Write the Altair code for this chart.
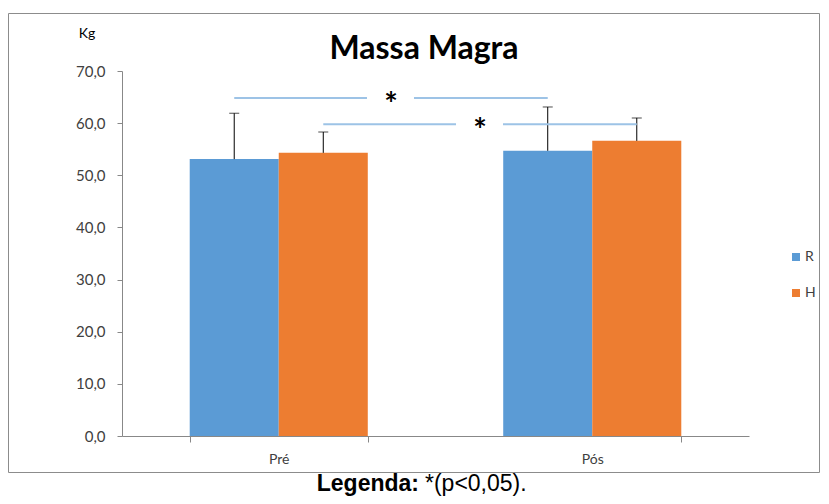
import altair as alt
import pandas as pd

groups = ["Pré", "Pós"]
series = ["R", "H"]
mean_R = [53.1, 54.7]
mean_H = [54.3, 56.6]
sd_R = [8.8, 8.4]
sd_H = [4.0, 4.4]
y_ticks = [0, 10, 20, 30, 40, 50, 60, 70]
sig_series = ["R", "H"]
sig_level = [64.8, 59.8]
sig_mark = ["*", "*"]

BLUE = "#5B9BD5"
ORANGE = "#ED7D31"
SIG = "#9DC3E6"
AX = "#888888"
LBL = "#404040"
FONT = "Lato"

rows = []
for i, g in enumerate(groups):
    for s, m, sd in (("R", mean_R[i], sd_R[i]), ("H", mean_H[i], sd_H[i])):
        rows.append(dict(group=g, series=s, mean=m, upper=m + sd))
bars_df = pd.DataFrame(rows)

PAD_INNER = 0.432
PAD_OUTER = PAD_INNER / 2
BAND = 1 - PAD_INNER


def center(gi, s):
    j = series.index(s)
    return gi + PAD_OUTER + BAND * (j + 0.5) / len(series)


sig_rows = []
for s, lvl, mk in zip(sig_series, sig_level, sig_mark):
    x0 = center(0, s)
    x1 = center(1, s)
    sig_rows.append(dict(series=s, level=lvl, x0=x0, x1=x1, mid=(x0 + x1) / 2, mark=mk))
sig_df = pd.DataFrame(sig_rows)

yscale = alt.Scale(domain=[0, 70], nice=False, zero=True)
x_enc = alt.X(
    "group:N", sort=groups,
    scale=alt.Scale(paddingInner=PAD_INNER, paddingOuter=PAD_OUTER),
    axis=alt.Axis(title=None, labelAngle=0, tickBand="extent", domainColor=AX, tickColor=AX,
                  tickSize=6, labelPadding=10, labelFontSize=14, labelColor=LBL, labelFont=FONT),
)
xoff = alt.XOffset("series:N", sort=series, scale=alt.Scale(paddingInner=0, paddingOuter=0))
y_enc = alt.Y(
    "mean:Q", scale=yscale,
    axis=alt.Axis(title=None, values=y_ticks, grid=False, domainColor=AX, tickColor=AX, tickSize=5,
                  labelPadding=12, labelFontSize=15, labelColor=LBL, labelFont=FONT,
                  labelExpr="replace(format(datum.value, '.1f'), '.', ',')"),
)

bars = alt.Chart(bars_df).mark_bar().encode(
    x=x_enc, xOffset=xoff, y=y_enc,
    color=alt.Color("series:N", sort=series,
                    scale=alt.Scale(domain=series, range=[BLUE, ORANGE]),
                    legend=alt.Legend(title=None, orient="none", legendX=667, legendY=179,
                                      symbolType="square", symbolSize=64, symbolStrokeWidth=0,
                                      labelFontSize=14, labelColor=LBL, labelFont=FONT,
                                      rowPadding=22, labelOffset=2, padding=0)),
)
err = alt.Chart(bars_df).mark_rule(color="black", strokeWidth=1).encode(
    x=x_enc, xOffset=xoff, y=alt.Y("mean:Q", scale=yscale), y2="upper:Q"
)
caps = alt.Chart(bars_df).mark_tick(color="black", size=10, thickness=1, orient="horizontal").encode(
    x=x_enc, xOffset=xoff, y=alt.Y("upper:Q", scale=yscale)
)
base = alt.layer(bars, err, caps)

xq = alt.Scale(domain=[0, 2], nice=False, zero=False)
sig_left = alt.Chart(sig_df).mark_rule(color=SIG, strokeWidth=2, x2Offset=-24).encode(
    x=alt.X("x0:Q", scale=xq, axis=None), x2="mid:Q", y=alt.Y("level:Q", scale=yscale)
)
sig_right = alt.Chart(sig_df).mark_rule(color=SIG, strokeWidth=2, xOffset=23).encode(
    x=alt.X("mid:Q", scale=xq, axis=None), x2="x1:Q", y=alt.Y("level:Q", scale=yscale)
)
stars = alt.Chart(sig_df).mark_text(fontSize=32, fontWeight="bold", font=FONT, color="black",
                                    baseline="middle", dy=8).encode(
    x=alt.X("mid:Q", scale=xq, axis=None), y=alt.Y("level:Q", scale=yscale), text="mark:N"
)
sig = alt.layer(sig_left, sig_right, stars)

one = pd.DataFrame({"k": [0]})
frame = alt.Chart(one).mark_rect(fillOpacity=0, stroke="#8c8c8c", strokeWidth=1).encode(
    x=alt.value(-113.5), x2=alt.value(697.5), y=alt.value(-57.5), y2=alt.value(401.5)
)
title = alt.Chart(one).mark_text(text="Massa Magra", fontSize=32, fontWeight="bold", font=FONT,
                                 color="black", baseline="alphabetic").encode(
    x=alt.value(302), y=alt.value(-12)
)
kg = alt.Chart(one).mark_text(text="Kg", fontSize=14, font=FONT, color="black",
                              baseline="alphabetic").encode(x=alt.value(-35), y=alt.value(-33))
cap1 = alt.Chart(one).mark_text(text="Legenda:", fontSize=23, fontWeight="bold",
                                font="Liberation Sans", color="black", align="right",
                                baseline="alphabetic").encode(x=alt.value(297), y=alt.value(420))
cap2 = alt.Chart(one).mark_text(text="*(p<0,05).", fontSize=23, font="Liberation Sans",
                                color="black", align="left",
                                baseline="alphabetic").encode(x=alt.value(303), y=alt.value(420))

chart = alt.layer(frame, base, sig, title, kg, cap1, cap2).resolve_scale(x="independent").properties(
    width=627, height=365,
    autosize=alt.AutoSizeParams(type="none"),
    padding={"left": 114, "top": 63, "right": 72, "bottom": 60},
).configure_view(stroke=None)

chart.save("out.html", embed_options={"renderer": "svg", "actions": False})
